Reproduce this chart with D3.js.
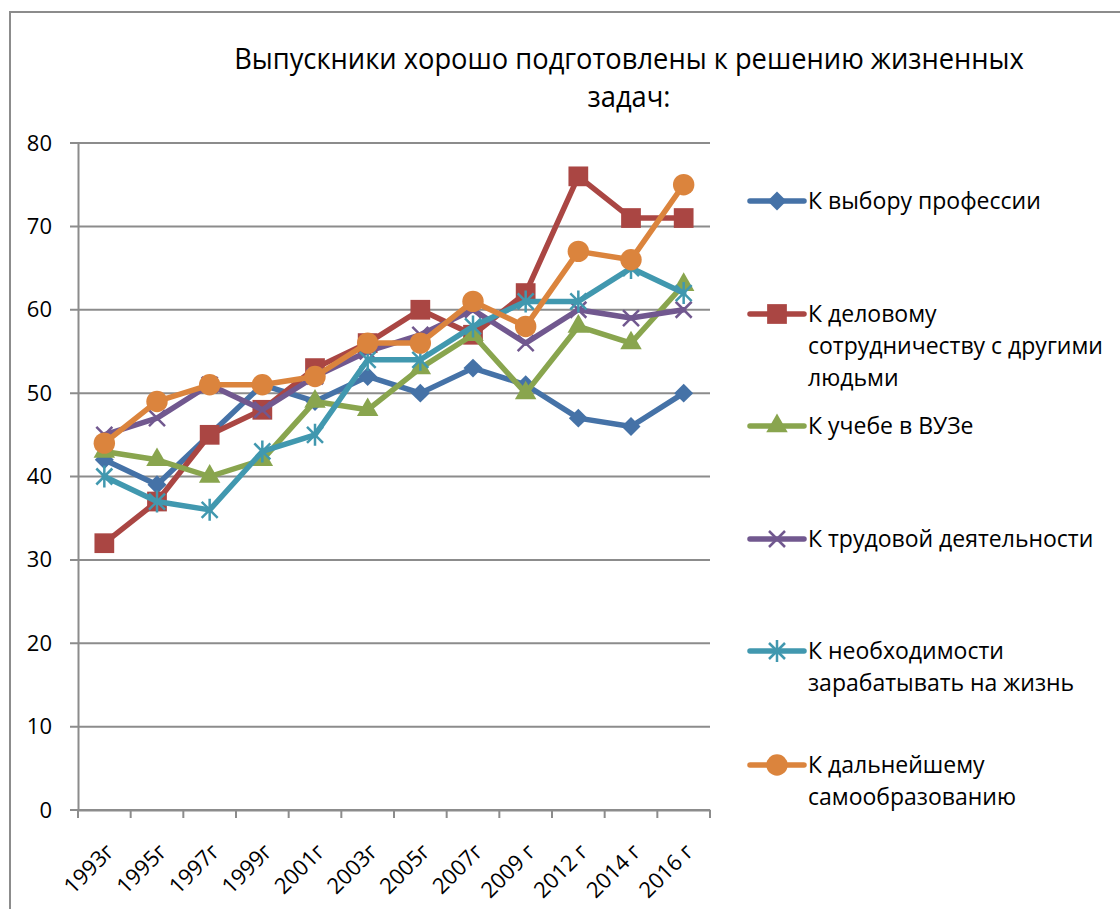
<!DOCTYPE html>
<html>
<head>
<meta charset="utf-8">
<script src="https://cdn.jsdelivr.net/npm/d3@7"></script>
<style>
  body { margin: 0; background: #fff; }
  svg text { font-family: "Open Sans", "Noto Sans", sans-serif; fill: #000; }
</style>
</head>
<body>
<div id="container"></div>
<script>
// chart data
var years = ["1993г", "1995г", "1997г", "1999г", "2001г", "2003г", "2005г", "2007г", "2009 г", "2012 г", "2014 г", "2016 г"];
var profession = [42, 39, 45, 51, 49, 52, 50, 53, 51, 47, 46, 50];
var business = [32, 37, 45, 48, 53, 56, 60, 57, 62, 76, 71, 71];
var university = [43, 42, 40, 42, 49, 48, 53, 57, 50, 58, 56, 63];
var labour = [45, 47, 51, 48, 52, 55, 57, 60, 56, 60, 59, 60];
var earning = [40, 37, 36, 43, 45, 54, 54, 58, 61, 61, 65, 62];
var selfEdu = [44, 49, 51, 51, 52, 56, 56, 61, 58, 67, 66, 75];
var yTicks = [0, 10, 20, 30, 40, 50, 60, 70, 80];
var titleLines = ["Выпускники хорошо подготовлены к решению жизненных", "задач:"];

var series = [
  { name: ["К выбору профессии"], values: profession, color: "#4572A7", marker: "diamond" },
  { name: ["К деловому", "сотрудничеству с другими", "людьми"], values: business, color: "#AA4643", marker: "square" },
  { name: ["К учебе в ВУЗе"], values: university, color: "#89A54E", marker: "triangle" },
  { name: ["К трудовой деятельности"], values: labour, color: "#71588F", marker: "x" },
  { name: ["К необходимости", "зарабатывать на жизнь"], values: earning, color: "#4198AF", marker: "star" },
  { name: ["К дальнейшему", "самообразованию"], values: selfEdu, color: "#DB843D", marker: "circle" }
];

var W = 1120, H = 909;
var plotLeft = 78, plotRight = 710, plotTop = 143, plotBottom = 810;

var svg = d3
  .select("#container")
  .append("svg")
  .attr("width", W)
  .attr("height", H);

// outer chart frame
svg
  .append("path")
  .attr("d", "M10," + H + " L10,12 L" + W + ",12")
  .attr("fill", "none")
  .attr("stroke", "#8c8c8c")
  .attr("stroke-width", 2);

// title (slightly narrowed, the original font is a condensed one)
svg
  .selectAll("text.title")
  .data(titleLines)
  .enter()
  .append("text")
  .attr("class", "title")
  .attr("transform", (d, i) => "translate(629," + (69 + i * 38) + ") scale(0.91,1)")
  .attr("text-anchor", "middle")
  .style("font-size", "30px")
  .text((d) => d);

var xScale = d3.scaleBand().domain(years).range([plotLeft, plotRight]);
var yScale = d3.scaleLinear().domain([0, 80]).range([plotBottom, plotTop]);

// gridlines
svg
  .append("g")
  .selectAll("line")
  .data(yTicks)
  .enter()
  .append("line")
  .attr("x1", plotLeft - 8)
  .attr("x2", plotRight)
  .attr("y1", (d) => yScale(d))
  .attr("y2", (d) => yScale(d))
  .attr("stroke", "#8c8c8c")
  .attr("stroke-width", 2);

// y axis
var yAxis = d3.axisLeft(yScale).tickValues(yTicks).tickSize(0).tickPadding(26);
var gy = svg
  .append("g")
  .attr("transform", "translate(" + plotLeft + ",0)")
  .call(yAxis);
gy.select(".domain").attr("stroke", "#8c8c8c").attr("stroke-width", 2);
gy.selectAll("text").style("font-size", "22px").attr("fill", "#000");

// x axis
var xAxis = d3.axisBottom(xScale).tickSize(0).tickFormat("");
var gx = svg
  .append("g")
  .attr("transform", "translate(0," + plotBottom + ")")
  .call(xAxis);
gx.select(".domain").attr("stroke", "#8c8c8c").attr("stroke-width", 2);

// x tick marks sit between categories
var bounds = years.map((d) => xScale(d)).concat([plotRight]);
gx.selectAll("line.tk")
  .data(bounds)
  .enter()
  .append("line")
  .attr("class", "tk")
  .attr("x1", (d) => d)
  .attr("x2", (d) => d)
  .attr("y1", 0)
  .attr("y2", 8)
  .attr("stroke", "#8c8c8c")
  .attr("stroke-width", 2);

svg
  .append("g")
  .selectAll("text")
  .data(years)
  .enter()
  .append("text")
  .attr("transform", (d) => "translate(" + (xScale(d) + xScale.bandwidth() / 2 + 11) + ",853) rotate(-45)")
  .attr("text-anchor", "end")
  .style("font-size", "22px")
  .text((d) => d);

function cx(i) {
  return xScale(years[i]) + xScale.bandwidth() / 2;
}

// marker drawing
function drawMarker(g, type, color) {
  if (type === "diamond") {
    g.append("path")
      .attr("d", d3.symbol(d3.symbolSquare, 180)())
      .attr("transform", "rotate(45)")
      .attr("fill", color);
  } else if (type === "square") {
    g.append("path").attr("d", d3.symbol(d3.symbolSquare, 390)()).attr("fill", color);
  } else if (type === "triangle") {
    g.append("path").attr("d", d3.symbol(d3.symbolTriangle, 200)()).attr("fill", color);
  } else if (type === "circle") {
    g.append("path").attr("d", d3.symbol(d3.symbolCircle, 360)()).attr("fill", color);
  } else if (type === "x") {
    g.append("path")
      .attr("d", "M-8,-8L8,8M-8,8L8,-8")
      .attr("stroke", color)
      .attr("stroke-width", 2.5)
      .attr("fill", "none");
  } else if (type === "star") {
    g.append("path")
      .attr("d", "M-8,-8L8,8M-8,8L8,-8M0,-11L0,11")
      .attr("stroke", color)
      .attr("stroke-width", 2.5)
      .attr("fill", "none");
  }
}

var line = d3
  .line()
  .x((d, i) => cx(i))
  .y((d) => yScale(d));

series.forEach((s) => {
  var g = svg.append("g");
  g.append("path")
    .attr("d", line(s.values))
    .attr("fill", "none")
    .attr("stroke", s.color)
    .attr("stroke-width", 5.5)
    .attr("stroke-linejoin", "round")
    .attr("stroke-linecap", "round");
  s.values.forEach((v, i) => {
    var m = g.append("g").attr("transform", "translate(" + cx(i) + "," + yScale(v) + ")");
    drawMarker(m, s.marker, s.color);
  });
});

// legend
var legendY = [201, 314, 426, 539, 651, 765];
series.forEach((s, k) => {
  var g = svg.append("g").attr("transform", "translate(0," + legendY[k] + ")");
  g.append("line")
    .attr("x1", 750)
    .attr("x2", 804)
    .attr("y1", 0)
    .attr("y2", 0)
    .attr("stroke", s.color)
    .attr("stroke-width", 5.5)
    .attr("stroke-linecap", "round");
  var m = g.append("g").attr("transform", "translate(777,0)");
  drawMarker(m, s.marker, s.color);
  g.selectAll("text")
    .data(s.name)
    .enter()
    .append("text")
    .attr("x", 808)
    .attr("y", (d, i) => 8 + i * 32)
    .style("font-size", "23px")
    .text((d) => d);
});
</script>
</body>
</html>
